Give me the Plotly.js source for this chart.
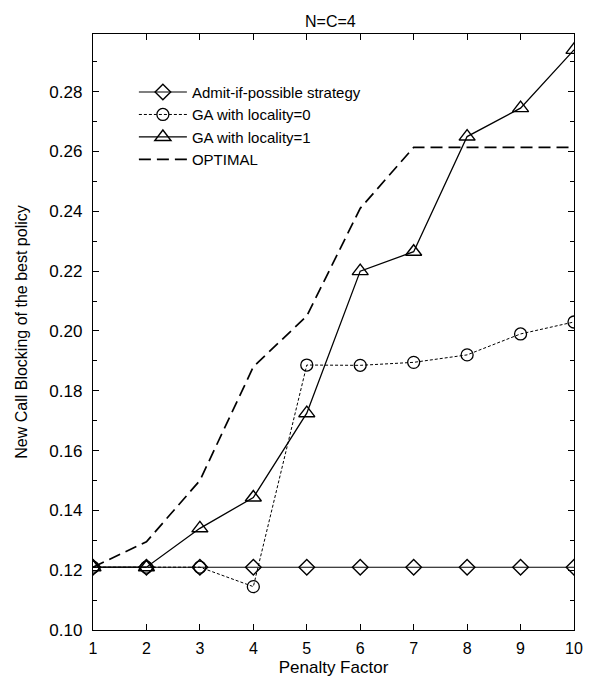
<!DOCTYPE html>
<html><head><meta charset="utf-8">
<script src="https://cdn.plot.ly/plotly-3.0.1.min.js"></script>
<style>body{margin:0;background:#fff}#c{width:591px;height:677px}</style>
</head><body><div id="c"></div>
<script>
const penalty = [1,2,3,4,5,6,7,8,9,10];
const admit = [0.121,0.121,0.121,0.121,0.121,0.121,0.121,0.121,0.121,0.121];
const gaLoc0 = [0.121,0.121,0.121,0.1145,0.1886,0.1885,0.1895,0.192,0.199,0.203];
const gaLoc1 = [0.121,0.121,0.134,0.1443,0.1725,0.220,0.2265,0.265,0.2745,0.294];
const optimal = [0.121,0.1295,0.150,0.188,0.205,0.241,0.2614,0.2614,0.2614,0.2614];
const yTicks = [0.10,0.12,0.14,0.16,0.18,0.20,0.22,0.24,0.26,0.28];

const F = 'Liberation Sans, Arial, sans-serif';
const traces = [
 {x:penalty,y:admit,name:'Admit-if-possible strategy',mode:'lines+markers',
  line:{color:'#000',width:1.1},marker:{symbol:'diamond-open',size:12,color:'#000',line:{width:1.4}}},
 {x:penalty,y:gaLoc0,name:'GA with locality=0',mode:'lines+markers',
  line:{color:'#000',width:1,dash:'3px,2px'},marker:{symbol:'circle-open',size:12,color:'#000',line:{width:1.3}}},
 {x:penalty,y:gaLoc1,name:'GA with locality=1',mode:'lines+markers',
  line:{color:'#000',width:1.3},marker:{symbol:'triangle-up-open',size:14,color:'#000',line:{width:1.4}}},
 {x:penalty,y:optimal,name:'OPTIMAL',mode:'lines',
  line:{color:'#000',width:1.7,dash:'12px,6px'}}
];
const layout = {
 width:591,height:677,paper_bgcolor:'#fff',plot_bgcolor:'#fff',
 margin:{l:93,r:17,t:34,b:47},
 font:{family:F,size:16,color:'#000'},
 title:{text:'N=C=4',x:0.559,xanchor:'center',y:0.976,yanchor:'top',font:{size:16,family:F}},
 showlegend:true,
 legend:{x:0.085,y:0.93,xanchor:'left',yanchor:'top',bgcolor:'rgba(0,0,0,0)',
   font:{size:15,family:F},tracegroupgap:0,itemwidth:48},
 xaxis:{range:[1,10],tickvals:penalty,ticks:'inside',ticklen:6,tickcolor:'#000',
   showline:true,linecolor:'#000',linewidth:1.2,mirror:'ticks',showgrid:false,zeroline:false,
   ticklabelstandoff:4,
   title:{text:'Penalty Factor',font:{size:17,family:F},standoff:4},tickfont:{size:16}},
 yaxis:{range:[0.1,0.2993],tickvals:yTicks,tickformat:'.2f',ticks:'inside',ticklen:6,tickcolor:'#000',
   showline:true,linecolor:'#000',linewidth:1.2,mirror:'ticks',showgrid:false,zeroline:false,
   ticklabelstandoff:6,
   minor:{dtick:0.01,ticks:'inside',ticklen:4,tickcolor:'#000'},
   title:{text:'New Call Blocking of the best policy',font:{size:16,family:F},standoff:17},tickfont:{size:17}}
};
Plotly.newPlot('c',traces,layout,{staticPlot:true});
</script></body></html>
